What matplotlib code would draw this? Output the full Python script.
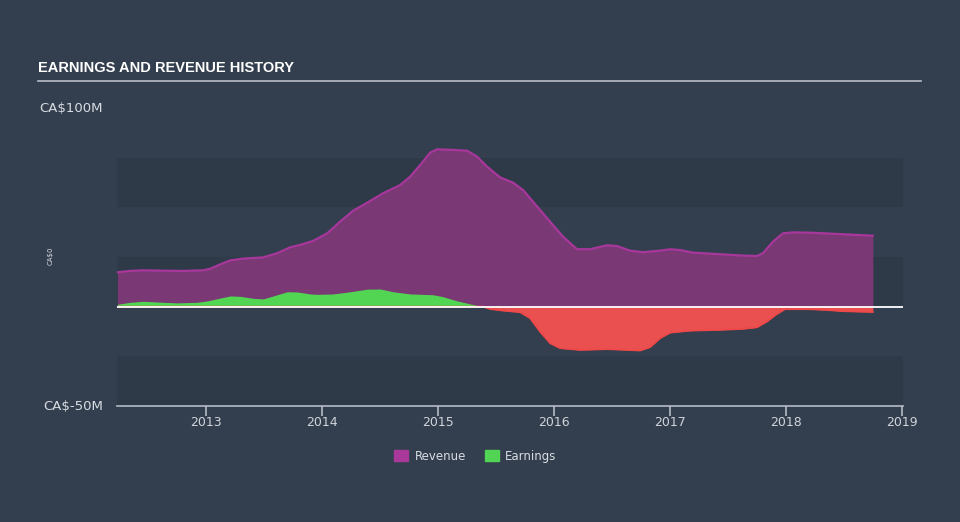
import numpy as np
import matplotlib.pyplot as plt
from matplotlib.patches import Patch

# revenue history (decimal year, CA$ millions)
rev_t = [2012.233, 2012.345, 2012.457, 2012.629, 2012.802, 2012.974, 2013.034,
         2013.121, 2013.207, 2013.319, 2013.491, 2013.612, 2013.724, 2013.810,
         2013.922, 2014.043, 2014.155, 2014.267, 2014.388, 2014.526, 2014.672,
         2014.759, 2014.845, 2014.931, 2014.991, 2015.129, 2015.250, 2015.336,
         2015.422, 2015.534, 2015.647, 2015.733, 2015.819, 2015.940, 2016.078,
         2016.198, 2016.310, 2016.457, 2016.543, 2016.655, 2016.767, 2016.914,
         2017.000, 2017.086, 2017.198, 2017.431, 2017.629, 2017.750, 2017.802,
         2017.888, 2017.974, 2018.060, 2018.233, 2018.440, 2018.612, 2018.750]
rev_v = [17.3, 18.0, 18.3, 18.1, 18.0, 18.3, 19.1,
         21.3, 23.3, 24.2, 24.8, 26.9, 29.9, 31.1,
         33.1, 36.9, 42.8, 48.3, 52.3, 57.1, 61.2,
         65.4, 71.3, 77.5, 79.2, 78.9, 78.5, 75.5,
         70.5, 65.1, 62.4, 58.7, 52.8, 44.5, 35.2,
         28.9, 28.9, 30.9, 30.5, 28.2, 27.4, 28.2,
         28.9, 28.5, 27.2, 26.4, 25.7, 25.5, 26.9,
         32.7, 36.9, 37.4, 37.2, 36.6, 36.1, 35.7]

# earnings history (decimal year, CA$ millions)
earn_t = [2012.233, 2012.345, 2012.457, 2012.629, 2012.750, 2012.922, 2013.009,
          2013.095, 2013.207, 2013.293, 2013.405, 2013.491, 2013.578, 2013.698,
          2013.784, 2013.897, 2013.957, 2014.095, 2014.241, 2014.388, 2014.500,
          2014.612, 2014.759, 2014.957, 2015.043, 2015.164, 2015.276, 2015.388,
          2015.448, 2015.560, 2015.707, 2015.793, 2015.879, 2015.966, 2016.052,
          2016.224, 2016.457, 2016.629, 2016.741, 2016.828, 2016.914, 2017.000,
          2017.172, 2017.431, 2017.629, 2017.750, 2017.836, 2017.922, 2017.991,
          2018.207, 2018.353, 2018.491, 2018.750]
earn_v = [1.2, 2.2, 2.7, 2.2, 1.9, 2.2, 2.9,
          4.0, 5.4, 5.2, 4.2, 3.9, 5.4, 7.5,
          7.4, 6.4, 6.2, 6.4, 7.5, 8.8, 8.9,
          7.5, 6.4, 6.0, 5.0, 2.9, 1.4, 0.0,
          -1.2, -2.0, -2.8, -5.8, -12.6, -18.4, -20.9,
          -21.8, -21.4, -21.8, -22.1, -20.4, -15.9, -13.1,
          -12.1, -11.7, -11.2, -10.4, -7.5, -3.7, -1.3,
          -1.3, -1.7, -2.3, -2.7]

years = [2013, 2014, 2015, 2016, 2017, 2018, 2019]
y_labels = {100: "CA$100M", -50: "CA$-50M"}

bg = "#333f4e"
band = "#2e3a48"

fig = plt.figure(figsize=(9.6, 5.22), dpi=100, facecolor=bg)
ax = fig.add_axes([117 / 960, 1 - 406 / 522, 786 / 960, 298 / 522])
ax.set_facecolor(bg)
ax.set_xlim(2012.23, 2019.01)
ax.set_ylim(-50, 100)

# horizontal bands
for lo, hi in [(50, 75), (0, 25), (-50, -25)]:
    ax.axhspan(lo, hi, color=band, lw=0, zorder=0)

rt = np.array(rev_t)
rv = np.array(rev_v)
ax.fill_between(rt, 0, rv, color="#7a3874", lw=0, zorder=2)
ax.plot(rt, rv, color="#a8379c", lw=1.6, zorder=3, solid_joinstyle="round")

et = np.array(earn_t)
ev = np.array(earn_v)
ax.fill_between(et, 0, ev, where=ev >= 0, interpolate=True,
                color="#52d552", lw=0, zorder=4)
ax.fill_between(et, 0, ev, where=ev <= 0, interpolate=True,
                color="#ea5050", lw=0, zorder=4)
ax.plot(et, np.minimum(ev, 0), color="#f04848", lw=1.2, zorder=5)

ax.axhline(0, color="white", lw=1.3, zorder=6)

for s in ["top", "right", "left"]:
    ax.spines[s].set_visible(False)
ax.spines["bottom"].set_color("#b4bcc6")
ax.spines["bottom"].set_linewidth(1.2)
ax.set_yticks([])
ax.set_xticks(years)
ax.set_xticklabels([str(y) for y in years])
ax.tick_params(axis="x", colors="#b4bcc6", length=7, width=1.2,
               labelcolor="#d0d4da", labelsize=9, pad=0)

# y labels
for v, t in y_labels.items():
    ax.text(-0.018, (v + 50) / 150, t, transform=ax.transAxes, ha="right",
            va="center", color="#d8dce2", fontsize=9.5)
fig.text(0.053, 0.51, "CA$0", rotation=90, color="#d8dce2", fontsize=5,
         ha="center", va="center")

# title and rule
fig.text(38 / 960, 1 - 68 / 522, "EARNINGS AND REVENUE HISTORY", color="white",
         fontsize=10.5, fontweight="bold", family="Liberation Sans",
         va="center", ha="left")
fig.add_artist(plt.Line2D([38 / 960, 921 / 960], [1 - 81 / 522, 1 - 81 / 522],
                          color="#b8bec6", lw=1.2))

handles = [Patch(color="#a8399a", label="Revenue"),
           Patch(color="#52d552", label="Earnings")]
fig.legend(handles=handles, loc="center", bbox_to_anchor=(0.495, 1 - 456 / 522),
           ncol=2, frameon=False, labelcolor="#d8dce2", fontsize=8.5,
           handlelength=1.2, handleheight=1.1, columnspacing=1.6, handletextpad=0.5)

fig.savefig("out.png", dpi=100, facecolor=bg)
